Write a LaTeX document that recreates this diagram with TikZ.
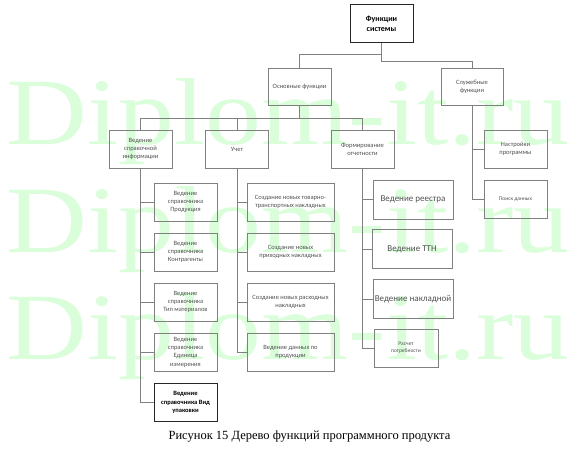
\documentclass[tikz,border=0pt]{standalone}
\usepackage{fontspec}
\setmainfont{Liberation Serif}
\newfontfamily\boxfont{Carlito}
\newfontfamily\wmfont[FakeStretch=1.18]{Liberation Serif}
\definecolor{wmark}{RGB}{218,253,218}
\definecolor{boxline}{RGB}{128,128,128}
\definecolor{boxtext}{RGB}{80,80,80}
\tikzset{
	box/.style={draw=boxline, line width=0.6pt, text=boxtext, align=center, inner sep=1pt,
		minimum width=63, minimum height=38, font=\boxfont\fontsize{6.5}{8.3}\selectfont},
	bigbox/.style={box, minimum width=80, minimum height=39, font=\boxfont\fontsize{9}{11}\selectfont},
	smallbox/.style={box, font=\boxfont\fontsize{5.5}{7}\selectfont},
	mainbox/.style={box, draw=black!85, line width=1pt, text=black, font=\boxfont\bfseries\fontsize{8}{10.5}\selectfont},
	link/.style={draw=boxline, line width=0.8pt}
}
\begin{document}
\begin{tikzpicture}[x=1pt,y=-1pt]
	\useasboundingbox (0,0) rectangle (582,460);

	% watermark
	\foreach \y in {145,252,359}
	\node[anchor=base west, inner sep=0pt, text=wmark, font=\wmfont\fontsize{95}{95}\selectfont] at (6,\y) {Diplom-it.ru};

	% levels 1 and 2
	\node[mainbox] (sys) at (381.5,24) {Функции\\системы};
	\node[box, minimum height=37] (main) at (299.5,86.5) {Основные функции};
	\node[box, minimum height=37, minimum width=62] (serv) at (472,86.5) {Служебные\\функции};

	% level 3
	\node[box] (ref) at (140.5,149) {Ведение\\справочной\\информации};
	\node[box] (acc) at (237,149) {Учет};
	\node[box] (rep) at (362.5,149) {Формирование\\отчетности};
	\node[box] (set) at (515.5,149) {Настройки\\программы};
	\node[smallbox] (find) at (515.5,199) {Поиск данных};

	% reference books
	\foreach \name/\y/\txt in {prod/202/Продукция, cont/252/Контрагенты, mat/302/Тип материалов, unit/352/Единица\\измерения}
	\node[box] (\name) at (185.5,\y) {Ведение\\справочника\\\txt};
	\node[mainbox, font=\boxfont\bfseries\fontsize{6.5}{8.3}\selectfont, line width=0.8pt] (pack) at (185.5,402.5) {Ведение\\справочника Вид\\упаковки};

	% accounting
	\foreach \name/\y/\txt in {ttn/202/{Создание новых товарно-\\транспортных накладных}, inc/252/{Создание новых\\приходных накладных}, out/302/{Создание новых расходных\\накладных}, data/352/{Ведение данных по\\продукции}}
	\node[box, minimum width=87] (\name) at (290.5,\y) {\txt};

	% reports
	\node[bigbox] (reg) at (413,199.5) {Ведение реестра};
	\node[bigbox] (tth) at (412,249) {Ведение ТТН};
	\node[bigbox] (bill) at (413,299) {Ведение накладной};
	\node[smallbox, minimum width=64] (need) at (406,348) {Расчет\\потребности};

	% connectors
	\draw[link] (sys.south) -- ++(0,11) -| (main.north);
	\draw[link] (sys.south) -- ++(0,18) -| (serv.north);
	\coordinate (bus) at (299.5,118);
	\draw[link] (main.south) -- (bus);
	\draw[link] (ref.north) |- (bus);
	\draw[link] (rep.north) |- (bus);
	\draw[link] (acc.north) -- (acc.north |- bus);

	\draw[link] (ref.south) |- (pack.west);
	\foreach \n in {prod,cont,mat,unit}
	\draw[link] (ref.south |- \n.west) -- (\n.west);

	\draw[link] (acc.south) |- (data.west);
	\foreach \n in {ttn,inc,out}
	\draw[link] (acc.south |- \n.west) -- (\n.west);

	\draw[link] (rep.south) |- (need.west);
	\foreach \n in {reg,tth,bill}
	\draw[link] (rep.south |- \n.west) -- (\n.west);

	\draw[link] (serv.south) |- (find.west);
	\draw[link] (serv.south |- set.west) -- (set.west);

	% caption
	\node[anchor=base, font=\fontsize{12.5}{15}\selectfont] (cap) at (309.5,439) {Рисунок 15 Дерево функций программного продукта};
\end{tikzpicture}
\end{document}
